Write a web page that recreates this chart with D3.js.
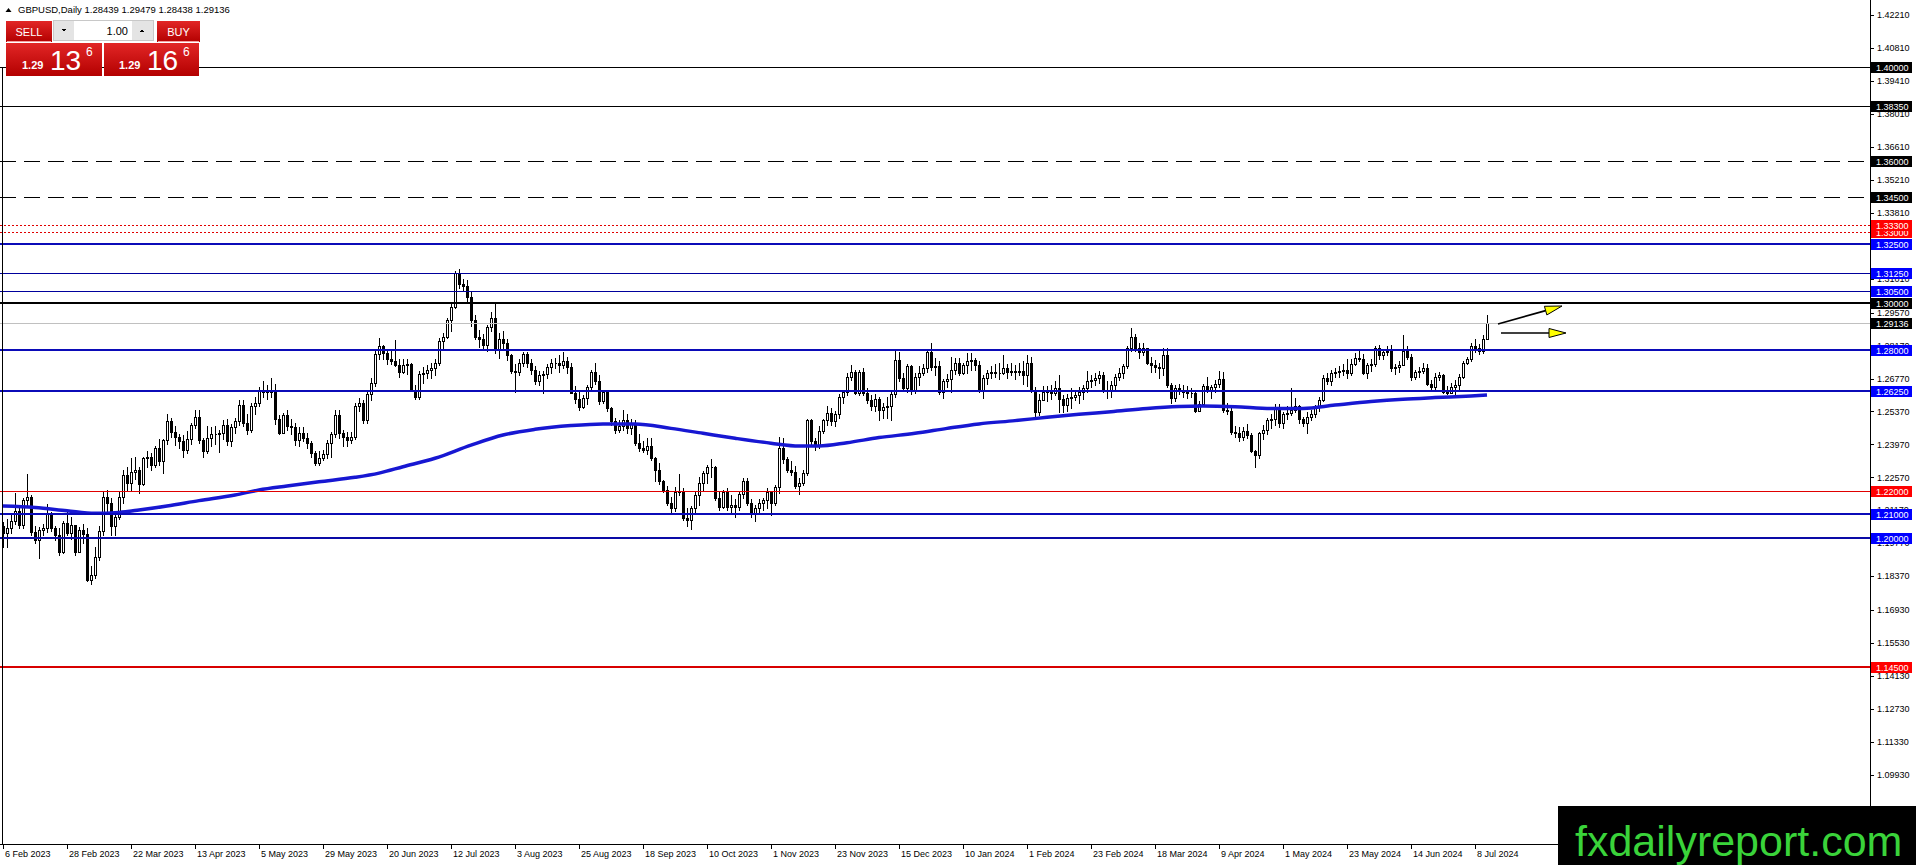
<!DOCTYPE html>
<html>
<head>
<meta charset="utf-8">
<script src="https://cdn.jsdelivr.net/npm/d3@7"></script>
<style>
  body { margin: 0; background: #fff; overflow: hidden; }
  svg { display: block; }
</style>
</head>
<body>
<div id="chart"></div>
<script>
// ---------------------------------------------------
// GBPUSD DAILY — MT4 style candlestick chart
// bars: 6 Feb 2023 .. 11 Jul 2024 (one bar per trading day)
// open of each bar = close of the bar before it
// ---------------------------------------------------

const symbolName = "GBPUSD,Daily";
const lastOHLC = [1.28439, 1.29479, 1.28438, 1.29136];
const firstOpen = 1.2050;

const closes = [
  1.2020,1.2040,1.2070,1.2115,1.2055,1.2160,1.2175,1.2026,1.1990,1.2035,
  1.2040,1.2105,1.2040,1.2010,1.1940,1.2065,1.2020,1.2055,1.1940,1.2035,
  1.2015,1.1822,1.1840,1.1920,1.2030,1.2175,1.2150,1.2050,1.2090,1.2175,
  1.2265,1.2235,1.2280,1.2290,1.2230,1.2340,1.2345,1.2310,1.2380,1.2325,
  1.2415,1.2495,1.2450,1.2430,1.2410,1.2375,1.2420,1.2480,1.2515,1.2415,
  1.2370,1.2425,1.2440,1.2440,1.2445,1.2480,1.2410,1.2470,1.2495,1.2565,
  1.2490,1.2460,1.2560,1.2575,1.2630,1.2620,1.2630,1.2620,1.2505,1.2445,
  1.2520,1.2475,1.2470,1.2415,1.2445,1.2425,1.2405,1.2360,1.2320,1.2340,
  1.2355,1.2405,1.2440,1.2520,1.2445,1.2430,1.2415,1.2430,1.2560,1.2575,
  1.2500,1.2610,1.2660,1.2780,1.2815,1.2785,1.2760,1.2750,1.2735,1.2705,
  1.2735,1.2740,1.2630,1.2600,1.2695,1.2700,1.2715,1.2720,1.2745,1.2835,
  1.2855,1.2925,1.2980,1.3125,1.3080,1.3070,1.3025,1.2925,1.2855,1.2845,
  1.2820,1.2895,1.2935,1.2800,1.2845,1.2830,1.2775,1.2710,1.2705,1.2745,
  1.2780,1.2745,1.2715,1.2665,1.2690,1.2695,1.2725,1.2745,1.2745,1.2735,
  1.2750,1.2725,1.2615,1.2590,1.2555,1.2595,1.2640,1.2705,1.2665,1.2580,
  1.2620,1.2550,1.2495,1.2460,1.2475,1.2500,1.2465,1.2490,1.2405,1.2380,
  1.2375,1.2390,1.2340,1.2290,1.2240,1.2205,1.2150,1.2125,1.2195,1.2200,
  1.2085,1.2075,1.2125,1.2180,1.2235,1.2275,1.2300,1.2300,1.2170,1.2130,
  1.2195,1.2130,1.2140,1.2130,1.2185,1.2240,1.2150,1.2105,1.2125,1.2150,
  1.2160,1.2195,1.2150,1.2215,1.2380,1.2335,1.2290,1.2280,1.2220,1.2235,
  1.2275,1.2500,1.2410,1.2390,1.2455,1.2500,1.2530,1.2495,1.2525,1.2600,
  1.2620,1.2685,1.2705,1.2615,1.2705,1.2615,1.2585,1.2560,1.2590,1.2545,
  1.2555,1.2560,1.2610,1.2755,1.2680,1.2635,1.2730,1.2630,1.2685,1.2700,
  1.2720,1.2790,1.2725,1.2730,1.2620,1.2665,1.2675,1.2715,1.2745,1.2700,
  1.2735,1.2750,1.2755,1.2735,1.2630,1.2680,1.2700,1.2705,1.2700,1.2700,
  1.2720,1.2705,1.2710,1.2705,1.2710,1.2690,1.2745,1.2630,1.2535,1.2585,
  1.2620,1.2625,1.2615,1.2635,1.2590,1.2565,1.2595,1.2600,1.2605,1.2620,
  1.2635,1.2665,1.2670,1.2680,1.2690,1.2630,1.2625,1.2650,1.2685,1.2700,
  1.2730,1.2805,1.2855,1.2805,1.2790,1.2805,1.2745,1.2735,1.2725,1.2720,
  1.2775,1.2650,1.2595,1.2635,1.2630,1.2620,1.2615,1.2615,1.2540,1.2570,
  1.2645,1.2630,1.2640,1.2655,1.2675,1.2545,1.2540,1.2450,1.2445,1.2430,
  1.2455,1.2435,1.2370,1.2350,1.2445,1.2460,1.2500,1.2505,1.2555,1.2490,
  1.2525,1.2530,1.2545,1.2560,1.2505,1.2490,1.2515,1.2525,1.2555,1.2585,
  1.2680,1.2665,1.2700,1.2705,1.2710,1.2715,1.2700,1.2740,1.2765,1.2760,
  1.2700,1.2735,1.2740,1.2805,1.2775,1.2790,1.2795,1.2720,1.2725,1.2735,
  1.2795,1.2770,1.2685,1.2705,1.2710,1.2720,1.2655,1.2640,1.2685,1.2690,
  1.2620,1.2615,1.2640,1.2650,1.2685,1.2745,1.2760,1.2815,1.2805,1.2795,
  1.2845,1.29136
];

const highs = [
  1.2068,1.2080,1.2100,1.2190,1.2135,1.2170,1.2270,1.2180,1.2050,1.2045,
  1.2060,1.2145,1.2110,1.2050,1.2040,1.2070,1.2120,1.2090,1.2045,1.2045,
  1.2060,1.2040,1.1880,1.1960,1.2050,1.2200,1.2205,1.2170,1.2115,1.2200,
  1.2290,1.2300,1.2340,1.2345,1.2300,1.2345,1.2370,1.2360,1.2390,1.2420,
  1.2420,1.2525,1.2510,1.2475,1.2440,1.2435,1.2455,1.2490,1.2545,1.2545,
  1.2425,1.2475,1.2470,1.2475,1.2460,1.2500,1.2505,1.2485,1.2510,1.2585,
  1.2585,1.2525,1.2575,1.2600,1.2640,1.2665,1.2650,1.2680,1.2655,1.2520,
  1.2530,1.2545,1.2505,1.2490,1.2470,1.2470,1.2445,1.2410,1.2370,1.2370,
  1.2375,1.2415,1.2450,1.2545,1.2545,1.2460,1.2450,1.2450,1.2575,1.2595,
  1.2585,1.2625,1.2680,1.2795,1.2848,1.2820,1.2800,1.2800,1.2840,1.2760,
  1.2760,1.2760,1.2745,1.2650,1.2710,1.2725,1.2735,1.2745,1.2760,1.2850,
  1.2870,1.2935,1.3000,1.3135,1.3142,1.3100,1.3095,1.3045,1.2945,1.2885,
  1.2865,1.2905,1.2960,1.2995,1.2870,1.2880,1.2845,1.2780,1.2740,1.2760,
  1.2790,1.2790,1.2760,1.2730,1.2710,1.2710,1.2740,1.2760,1.2765,1.2775,
  1.2790,1.2770,1.2745,1.2645,1.2620,1.2605,1.2650,1.2715,1.2745,1.2690,
  1.2630,1.2630,1.2555,1.2510,1.2500,1.2545,1.2525,1.2505,1.2500,1.2440,
  1.2410,1.2425,1.2425,1.2345,1.2320,1.2245,1.2220,1.2175,1.2215,1.2270,
  1.2210,1.2125,1.2135,1.2195,1.2260,1.2285,1.2310,1.2335,1.2305,1.2200,
  1.2205,1.2210,1.2180,1.2165,1.2195,1.2255,1.2255,1.2165,1.2140,1.2165,
  1.2170,1.2210,1.2200,1.2225,1.2430,1.2423,1.2345,1.2325,1.2305,1.2255,
  1.2290,1.2505,1.2505,1.2425,1.2475,1.2505,1.2560,1.2550,1.2540,1.2610,
  1.2630,1.2700,1.2733,1.2715,1.2715,1.2720,1.2635,1.2605,1.2610,1.2600,
  1.2575,1.2600,1.2630,1.2795,1.2790,1.2700,1.2740,1.2735,1.2700,1.2730,
  1.2740,1.2795,1.2827,1.2765,1.2750,1.2675,1.2695,1.2770,1.2765,1.2765,
  1.2745,1.2785,1.2785,1.2765,1.2750,1.2690,1.2715,1.2730,1.2740,1.2745,
  1.2775,1.2740,1.2745,1.2735,1.2745,1.2750,1.2775,1.2770,1.2640,1.2610,
  1.2645,1.2645,1.2650,1.2665,1.2690,1.2605,1.2610,1.2635,1.2625,1.2640,
  1.2650,1.2710,1.2690,1.2700,1.2710,1.2705,1.2665,1.2665,1.2695,1.2720,
  1.2740,1.2815,1.2893,1.2865,1.2830,1.2830,1.2805,1.2770,1.2755,1.2745,
  1.2805,1.2805,1.2660,1.2650,1.2655,1.2650,1.2645,1.2635,1.2630,1.2580,
  1.2655,1.2685,1.2650,1.2670,1.2710,1.2705,1.2575,1.2560,1.2475,1.2470,
  1.2470,1.2485,1.2445,1.2375,1.2450,1.2480,1.2510,1.2525,1.2570,1.2570,
  1.2535,1.2560,1.2635,1.2595,1.2565,1.2515,1.2535,1.2545,1.2565,1.2600,
  1.2690,1.2700,1.2715,1.2720,1.2730,1.2740,1.2760,1.2760,1.2785,1.2800,
  1.2780,1.2745,1.2760,1.2815,1.2820,1.2800,1.2815,1.2820,1.2740,1.2750,
  1.2860,1.2815,1.2780,1.2715,1.2725,1.2745,1.2740,1.2670,1.2700,1.2705,
  1.2695,1.2645,1.2660,1.2670,1.2695,1.2750,1.2770,1.2830,1.2845,1.2825,
  1.2860,1.29479
];

const lows = [
  1.1961,1.1963,1.2020,1.2060,1.2040,1.2040,1.2130,1.2010,1.1980,1.1915,
  1.2010,1.2025,1.2030,1.1990,1.1925,1.1935,1.2010,1.1995,1.1925,1.1940,
  1.1980,1.1815,1.1803,1.1830,1.1905,1.2010,1.2110,1.2010,1.2010,1.2080,
  1.2150,1.2200,1.2205,1.2250,1.2190,1.2225,1.2300,1.2290,1.2300,1.2310,
  1.2275,1.2400,1.2430,1.2395,1.2380,1.2345,1.2360,1.2400,1.2465,1.2405,
  1.2345,1.2360,1.2390,1.2400,1.2365,1.2420,1.2395,1.2390,1.2445,1.2480,
  1.2475,1.2440,1.2450,1.2525,1.2560,1.2600,1.2590,1.2600,1.2485,1.2440,
  1.2445,1.2460,1.2440,1.2395,1.2390,1.2410,1.2380,1.2345,1.2308,1.2310,
  1.2330,1.2340,1.2345,1.2430,1.2425,1.2390,1.2390,1.2405,1.2420,1.2540,
  1.2490,1.2490,1.2585,1.2645,1.2760,1.2760,1.2740,1.2740,1.2730,1.2685,
  1.2700,1.2695,1.2625,1.2590,1.2590,1.2660,1.2680,1.2680,1.2690,1.2735,
  1.2800,1.2850,1.2880,1.2975,1.3060,1.3055,1.3000,1.2900,1.2845,1.2810,
  1.2800,1.2795,1.2880,1.2785,1.2765,1.2805,1.2755,1.2700,1.2620,1.2690,
  1.2730,1.2725,1.2695,1.2655,1.2650,1.2615,1.2680,1.2700,1.2720,1.2705,
  1.2720,1.2700,1.2615,1.2575,1.2545,1.2550,1.2570,1.2630,1.2655,1.2570,
  1.2575,1.2540,1.2480,1.2445,1.2450,1.2460,1.2445,1.2440,1.2395,1.2370,
  1.2365,1.2355,1.2330,1.2240,1.2230,1.2195,1.2140,1.2110,1.2115,1.2180,
  1.2075,1.2050,1.2037,1.2110,1.2140,1.2200,1.2235,1.2260,1.2160,1.2120,
  1.2125,1.2120,1.2110,1.2090,1.2120,1.2170,1.2140,1.2090,1.2070,1.2105,
  1.2120,1.2125,1.2095,1.2140,1.2190,1.2320,1.2280,1.2265,1.2210,1.2185,
  1.2225,1.2265,1.2400,1.2375,1.2380,1.2445,1.2480,1.2480,1.2475,1.2510,
  1.2575,1.2605,1.2670,1.2610,1.2605,1.2605,1.2575,1.2545,1.2540,1.2500,
  1.2510,1.2510,1.2500,1.2600,1.2665,1.2625,1.2620,1.2610,1.2615,1.2650,
  1.2690,1.2705,1.2715,1.2690,1.2610,1.2595,1.2640,1.2620,1.2695,1.2690,
  1.2695,1.2700,1.2715,1.2715,1.2620,1.2595,1.2655,1.2680,1.2685,1.2675,
  1.2695,1.2680,1.2690,1.2675,1.2690,1.2655,1.2645,1.2620,1.2519,1.2520,
  1.2585,1.2580,1.2590,1.2605,1.2535,1.2535,1.2540,1.2550,1.2585,1.2575,
  1.2590,1.2620,1.2640,1.2650,1.2660,1.2620,1.2595,1.2600,1.2630,1.2670,
  1.2680,1.2720,1.2795,1.2795,1.2765,1.2775,1.2740,1.2705,1.2705,1.2680,
  1.2690,1.2640,1.2575,1.2580,1.2610,1.2600,1.2595,1.2600,1.2535,1.2540,
  1.2560,1.2620,1.2595,1.2620,1.2640,1.2535,1.2525,1.2440,1.2430,1.2410,
  1.2415,1.2425,1.2365,1.2299,1.2340,1.2420,1.2440,1.2465,1.2480,1.2470,
  1.2465,1.2505,1.2520,1.2535,1.2490,1.2475,1.2445,1.2500,1.2515,1.2540,
  1.2580,1.2655,1.2650,1.2685,1.2685,1.2690,1.2680,1.2690,1.2735,1.2750,
  1.2695,1.2680,1.2710,1.2730,1.2760,1.2760,1.2775,1.2710,1.2695,1.2705,
  1.2735,1.2760,1.2670,1.2675,1.2685,1.2700,1.2650,1.2625,1.2630,1.2670,
  1.2615,1.2613,1.2615,1.2607,1.2630,1.2680,1.2740,1.2750,1.2790,1.2780,
  1.2785,1.28438
];

// moving average at sample bars
const maBars   = [0, 8, 16, 23, 29, 34, 41, 49, 58, 64, 71, 79, 88, 94, 100, 108, 117, 125, 133, 142,
                  150, 158, 167, 175, 183, 192, 199, 204, 211, 219, 228, 236, 244, 253, 261, 269, 277,
                  286, 294, 300, 308, 317, 325, 333, 342, 350, 358, 367, 371];
const maValues = [1.2135, 1.2129, 1.2115, 1.2104, 1.2108, 1.2118, 1.2135, 1.2158, 1.2182, 1.2203,
                  1.2220, 1.2238, 1.2257, 1.2275, 1.2302, 1.2338, 1.2394, 1.2437, 1.2461, 1.2477,
                  1.2484, 1.2484, 1.2465, 1.2444, 1.2423, 1.2402, 1.2390, 1.2390, 1.2404, 1.2426,
                  1.2444, 1.2465, 1.2484, 1.2498, 1.2512, 1.2525, 1.2536, 1.2550, 1.2558, 1.2560,
                  1.2557, 1.2549, 1.2550, 1.2564, 1.2579, 1.2589, 1.2596, 1.2603, 1.2607];

// right price scale
const priceTicks = [1.42210, 1.40810, 1.39410, 1.38010, 1.36610, 1.35210, 1.33810, 1.32410,
                    1.31010, 1.29570, 1.28170, 1.26770, 1.25370, 1.23970, 1.22570, 1.21170,
                    1.19770, 1.18370, 1.16930, 1.15530, 1.14130, 1.12730, 1.11330, 1.09930];

// bottom time scale
const dateLabelBars = [0, 16, 32, 48, 64, 80, 96, 112, 128, 144, 160, 176, 192, 208, 224, 240,
                       256, 272, 288, 304, 320, 336, 352, 368];
const dateLabels = ["6 Feb 2023", "28 Feb 2023", "22 Mar 2023", "13 Apr 2023", "5 May 2023",
                    "29 May 2023", "20 Jun 2023", "12 Jul 2023", "3 Aug 2023", "25 Aug 2023",
                    "18 Sep 2023", "10 Oct 2023", "1 Nov 2023", "23 Nov 2023", "15 Dec 2023",
                    "10 Jan 2024", "1 Feb 2024", "23 Feb 2024", "18 Mar 2024", "9 Apr 2024",
                    "1 May 2024", "23 May 2024", "14 Jun 2024", "8 Jul 2024"];

// horizontal levels drawn on the chart
const levelPrices = [1.40000, 1.38350, 1.36000, 1.34500, 1.33300, 1.33000, 1.32500, 1.31250,
                     1.30500, 1.30000, 1.29136, 1.28000, 1.26250, 1.22000, 1.21000, 1.20000, 1.14500];
const levelKinds  = ["black", "black", "dash", "dash", "dot", "dot", "blue", "thin",
                     "thin", "thick", "bid", "blue", "blue", "red", "blue", "navy", "redBold"];

// arrow annotations: [bar0, price0, bar1, price1]
const arrowsData = [[373.75, 1.29086, 389.75, 1.29851], [374.5, 1.28704, 390.75, 1.28704]];

// one-click trading panel quotes
const sellQuote = ["1.29", "13", "6"];
const buyQuote  = ["1.29", "16", "6"];
const lotSize = "1.00";
const watermark = "fxdailyreport.com";

// ---------------------------------------------------
// STYLE TABLE FOR LEVELS
// ---------------------------------------------------
const levelStyle = {
  black:   { stroke: "#000000", width: 1, dash: null,  box: "#000000" },
  dash:    { stroke: "#000000", width: 1, dash: "16,8", box: "#000000" },
  dot:     { stroke: "#e00000", width: 1, dash: "2,2", box: "#ff0000" },
  blue:    { stroke: "#0b0bb8", width: 2, dash: null,  box: "#0000ff" },
  thin:    { stroke: "#00009c", width: 1, dash: null,  box: "#0000ff" },
  thick:   { stroke: "#000000", width: 2, dash: null,  box: "#000000" },
  bid:     { stroke: "#c0c0c0", width: 1, dash: null,  box: "#000000" },
  navy:    { stroke: "#0a0aa6", width: 2, dash: null,  box: "#0000ff" },
  red:     { stroke: "#e00000", width: 1, dash: null,  box: "#ff0000" },
  redBold: { stroke: "#d80000", width: 2, dash: null,  box: "#ff0000" }
};

// ---------------------------------------------------
// DIMENSIONS
// ---------------------------------------------------
const width = 1916;
const height = 865;
const plotRight = 1870;
const plotBottom = 844;
const barStep = 4;
const font = "'Liberation Sans', Arial, sans-serif";

// ---------------------------------------------------
// BUILD BARS
// ---------------------------------------------------
const bars = closes.map((c, i) => {
  const o = i === 0 ? firstOpen : (i === closes.length - 1 ? lastOHLC[0] : closes[i - 1]);
  return {
    i,
    o,
    c,
    h: Math.max(highs[i], o, c),
    l: Math.min(lows[i], o, c)
  };
});

// ---------------------------------------------------
// SCALES
// ---------------------------------------------------
const x = d3.scaleLinear()
  .domain([-0.75, -0.75 + plotRight / barStep])
  .range([0, plotRight]);

const y = d3.scaleLinear()
  .domain([1.069868, 1.428560])
  .range([plotBottom, 0]);

const svg = d3.select("#chart")
  .append("svg")
  .attr("width", width)
  .attr("height", height)
  .attr("viewBox", `0 0 ${width} ${height}`)
  .style("font-family", font);

svg.append("rect").attr("width", width).attr("height", height).attr("fill", "#fff");

const plot = svg.append("g");

// ---------------------------------------------------
// CANDLES
// ---------------------------------------------------
const candles = plot.append("g")
  .attr("shape-rendering", "crispEdges")
  .selectAll("g.candle")
  .data(bars)
  .join("g")
  .attr("class", "candle");

candles.append("line")
  .attr("x1", d => Math.round(x(d.i)) + 0.5)
  .attr("x2", d => Math.round(x(d.i)) + 0.5)
  .attr("y1", d => Math.round(y(d.h)))
  .attr("y2", d => Math.round(y(d.l)) + 1)
  .attr("stroke", "#000")
  .attr("stroke-width", 1);

candles.append("path")
  .attr("d", d => {
    const px = Math.round(x(d.i));
    const top = Math.round(y(Math.max(d.o, d.c))) + 0.5;
    const bot = Math.round(y(Math.min(d.o, d.c))) + 0.5;
    return `M${px - 0.5},${top}H${px + 1.5}V${bot}H${px - 0.5}Z`;
  })
  .attr("fill", d => d.c >= d.o ? "#fff" : "#000")
  .attr("stroke", "#000")
  .attr("stroke-width", 1);

// ---------------------------------------------------
// MOVING AVERAGE
// ---------------------------------------------------
const maLine = d3.line()
  .x(d => x(d[0]))
  .y(d => y(d[1]))
  .curve(d3.curveMonotoneX);

plot.append("path")
  .datum(maBars.map((b, k) => [b, maValues[k]]))
  .attr("fill", "none")
  .attr("stroke", "#1717d2")
  .attr("stroke-width", 3.5)
  .attr("stroke-linejoin", "round")
  .attr("d", maLine);

// ---------------------------------------------------
// HORIZONTAL LEVELS
// ---------------------------------------------------
const levels = levelPrices.map((p, k) => ({ p, kind: levelKinds[k] }));

plot.append("g")
  .selectAll("line")
  .data(levels)
  .join("line")
  .attr("x1", 0)
  .attr("x2", plotRight)
  .attr("y1", d => Math.round(y(d.p)) + (levelStyle[d.kind].width % 2 ? 0.5 : 0))
  .attr("y2", d => Math.round(y(d.p)) + (levelStyle[d.kind].width % 2 ? 0.5 : 0))
  .attr("stroke", d => levelStyle[d.kind].stroke)
  .attr("stroke-width", d => levelStyle[d.kind].width)
  .attr("stroke-dasharray", d => levelStyle[d.kind].dash)
  .attr("shape-rendering", "crispEdges");

// vertical line at the left side of the chart
plot.append("line")
  .attr("x1", 2.5).attr("x2", 2.5)
  .attr("y1", Math.round(y(levelPrices[0])))
  .attr("y2", plotBottom)
  .attr("stroke", "#000")
  .attr("shape-rendering", "crispEdges");

// ---------------------------------------------------
// ARROWS
// ---------------------------------------------------
const arrowG = plot.append("g");
arrowsData.forEach(a => {
  const x0 = x(a[0]), y0 = y(a[1]), x1 = x(a[2]), y1 = y(a[3]);
  const ang = Math.atan2(y1 - y0, x1 - x0);
  const len = 17, half = 4.5;
  const bx = x1 - len * Math.cos(ang), by = y1 - len * Math.sin(ang);
  arrowG.append("line")
    .attr("x1", x0).attr("y1", y0).attr("x2", bx).attr("y2", by)
    .attr("stroke", "#000").attr("stroke-width", 1.6);
  const nx = -Math.sin(ang) * half, ny = Math.cos(ang) * half;
  arrowG.append("path")
    .attr("d", `M${x1},${y1}L${bx + nx},${by + ny}L${bx - nx},${by - ny}Z`)
    .attr("fill", "#ffff00")
    .attr("stroke", "#000")
    .attr("stroke-width", 1)
    .attr("stroke-linejoin", "miter");
});

// ---------------------------------------------------
// AXES
// ---------------------------------------------------
const axisG = svg.append("g").attr("shape-rendering", "crispEdges");

axisG.append("line")
  .attr("x1", plotRight + 0.5).attr("x2", plotRight + 0.5)
  .attr("y1", 0).attr("y2", plotBottom)
  .attr("stroke", "#000");

axisG.append("line")
  .attr("x1", 0).attr("x2", plotRight + 1)
  .attr("y1", plotBottom + 0.5).attr("y2", plotBottom + 0.5)
  .attr("stroke", "#000");

// price ticks
const yTicks = svg.append("g");
yTicks.selectAll("line")
  .data(priceTicks)
  .join("line")
  .attr("x1", plotRight).attr("x2", plotRight + 4)
  .attr("y1", d => Math.round(y(d)) + 0.5)
  .attr("y2", d => Math.round(y(d)) + 0.5)
  .attr("stroke", "#000")
  .attr("shape-rendering", "crispEdges");

yTicks.selectAll("text")
  .data(priceTicks)
  .join("text")
  .attr("x", plotRight + 7)
  .attr("y", d => y(d) + 3.2)
  .attr("font-size", 9)
  .attr("fill", "#000")
  .text(d => d.toFixed(5));

// time ticks
const xTicks = svg.append("g");
xTicks.selectAll("line")
  .data(dateLabelBars)
  .join("line")
  .attr("x1", d => Math.round(x(d)) + 0.5)
  .attr("x2", d => Math.round(x(d)) + 0.5)
  .attr("y1", plotBottom).attr("y2", plotBottom + 5)
  .attr("stroke", "#000")
  .attr("shape-rendering", "crispEdges");

xTicks.selectAll("text")
  .data(dateLabelBars)
  .join("text")
  .attr("x", d => Math.round(x(d)) + 2)
  .attr("y", plotBottom + 13)
  .attr("font-size", 9)
  .attr("fill", "#000")
  .text((d, k) => dateLabels[k]);

// level price labels (higher price drawn on top)
const boxes = svg.append("g")
  .selectAll("g")
  .data(levels.slice().sort((a, b) => a.p - b.p))
  .join("g");

boxes.append("rect")
  .attr("x", plotRight + 1)
  .attr("y", d => Math.round(y(d.p)) - 5)
  .attr("width", 41)
  .attr("height", 11)
  .attr("fill", d => levelStyle[d.kind].box)
  .attr("shape-rendering", "crispEdges");

boxes.append("text")
  .attr("x", plotRight + 6)
  .attr("y", d => Math.round(y(d.p)) + 4)
  .attr("font-size", 9)
  .attr("fill", "#fff")
  .text(d => d.p.toFixed(5));

// ---------------------------------------------------
// HEADER
// ---------------------------------------------------
svg.append("path")
  .attr("d", "M5.5,12L8.5,8L11.5,12Z")
  .attr("fill", "#000");

svg.append("text")
  .attr("x", 18)
  .attr("y", 13)
  .attr("font-size", 9.5)
  .attr("fill", "#000")
  .text(`${symbolName}  ${lastOHLC.map(v => v.toFixed(5)).join(" ")}`);

// ---------------------------------------------------
// ONE-CLICK TRADING PANEL
// ---------------------------------------------------
const defs = svg.append("defs");
const grad = defs.append("linearGradient")
  .attr("id", "redGrad").attr("x1", 0).attr("y1", 0).attr("x2", 0).attr("y2", 1);
grad.append("stop").attr("offset", "0%").attr("stop-color", "#e22626");
grad.append("stop").attr("offset", "100%").attr("stop-color", "#b30000");

const panel = svg.append("g").attr("shape-rendering", "crispEdges");

// SELL / BUY buttons
[[6, 46, "SELL"], [157, 43, "BUY"]].forEach(([bx, bw, label]) => {
  panel.append("rect").attr("x", bx).attr("y", 21).attr("width", bw).attr("height", 21)
    .attr("fill", "url(#redGrad)");
  panel.append("line").attr("x1", bx + 1).attr("x2", bx + bw - 1)
    .attr("y1", 41.5).attr("y2", 41.5).attr("stroke", "#f3a0a0");
  panel.append("text").attr("x", bx + bw / 2).attr("y", 35.5)
    .attr("text-anchor", "middle").attr("font-size", 11).attr("fill", "#fff")
    .attr("shape-rendering", null)
    .text(label);
});

// lot spinner
panel.append("rect").attr("x", 53.5).attr("y", 20.5).attr("width", 100).attr("height", 20)
  .attr("fill", "#fff").attr("stroke", "#c8c8c8");
panel.append("rect").attr("x", 54).attr("y", 21).attr("width", 20).attr("height", 19).attr("fill", "#e4e4e4");
panel.append("rect").attr("x", 132).attr("y", 21).attr("width", 21).attr("height", 19).attr("fill", "#e4e4e4");
panel.append("path").attr("d", "M61.5,29L66.5,29L64,32Z").attr("fill", "#000");
panel.append("path").attr("d", "M139.5,32L144.5,32L142,29Z").attr("fill", "#000");
panel.append("text").attr("x", 128).attr("y", 35).attr("text-anchor", "end")
  .attr("font-size", 11).attr("fill", "#000").text(lotSize);

// quote boxes
[[6, 96, sellQuote, 22, 50, 86], [104, 95, buyQuote, 119, 147, 183]].forEach(([bx, bw, q, x1, x2, x3]) => {
  panel.append("rect").attr("x", bx).attr("y", 43).attr("width", bw).attr("height", 33)
    .attr("fill", "url(#redGrad)");
  panel.append("text").attr("x", x1).attr("y", 69).attr("font-size", 11).attr("font-weight", "bold")
    .attr("fill", "#fff").text(q[0]);
  panel.append("text").attr("x", x2).attr("y", 69.5).attr("font-size", 28)
    .attr("fill", "#fff").text(q[1]);
  panel.append("text").attr("x", x3).attr("y", 56).attr("font-size", 12)
    .attr("fill", "#fff").text(q[2]);
});

// ---------------------------------------------------
// WATERMARK
// ---------------------------------------------------
svg.append("rect")
  .attr("x", 1558).attr("y", 806)
  .attr("width", width - 1558).attr("height", height - 806)
  .attr("fill", "#000");

svg.append("text")
  .attr("x", 1575).attr("y", 856)
  .attr("font-size", 43)
  .attr("fill", "#3ad33a")
  .style("font-family", "'Liberation Sans', Arial, sans-serif")
  .text(watermark);
</script>
</body>
</html>
